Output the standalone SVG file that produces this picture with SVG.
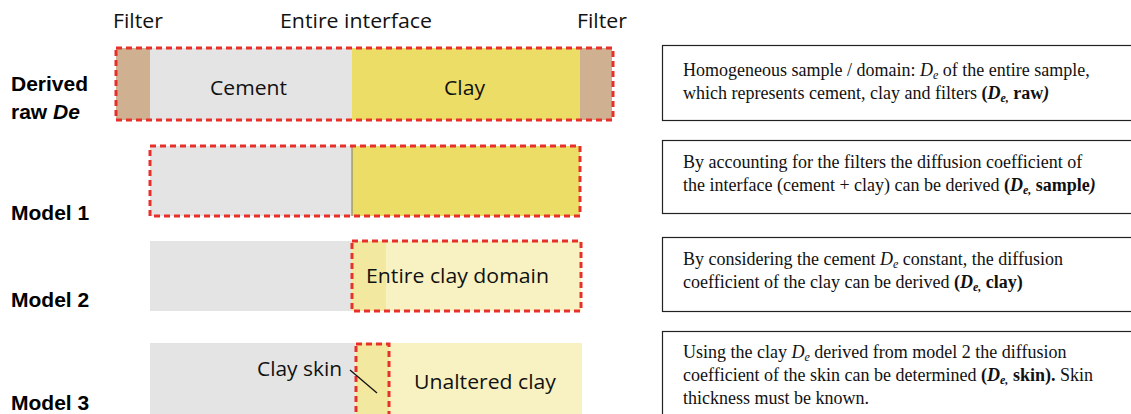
<svg xmlns="http://www.w3.org/2000/svg" width="1131" height="414" viewBox="0 0 1131 414">
<style>
.lbl{font-family:"Liberation Sans",Arial,sans-serif;font-weight:bold;font-size:21px;fill:#000}
.it{font-family:"Open Sans","Liberation Sans",sans-serif;font-size:19.5px;fill:#111}
.dash{fill:none;stroke:#e8302a;stroke-width:3;stroke-dasharray:6 4}
.box{fill:#fff;stroke:#222;stroke-width:1.2}
.desc{font-family:"Liberation Serif","Times New Roman",serif;font-size:18px;fill:#111}
.sub{font-style:italic;font-size:12px}
.grey{fill:#e4e4e4}.yel{fill:#ecdd66}.lyel{fill:#f8f1c2}.skin{fill:#f3e8a0}.filt{fill:#cfb091}
</style>
<rect width="1131" height="414" fill="#fff"/>
<g id="top-labels">
<text class="it" x="113" y="28" textLength="50" lengthAdjust="spacingAndGlyphs">Filter</text>
<text class="it" x="280" y="28" textLength="152" lengthAdjust="spacingAndGlyphs">Entire interface</text>
<text class="it" x="577" y="28" textLength="50" lengthAdjust="spacingAndGlyphs">Filter</text>
</g>
<g id="row-raw">
<rect class="filt" x="116" y="48" width="34" height="72"/>
<rect class="grey" x="150" y="48" width="202" height="72"/>
<rect class="yel" x="352" y="48" width="228" height="72"/>
<rect class="filt" x="580" y="48" width="32" height="72"/>
<rect class="dash" x="116" y="48" width="497" height="72"/>
<text class="it" x="210" y="95" textLength="77" lengthAdjust="spacingAndGlyphs">Cement</text>
<text class="it" x="444" y="95" textLength="41" lengthAdjust="spacingAndGlyphs">Clay</text>
<text class="lbl" x="11" y="91">Derived</text>
<text class="lbl" x="11" y="119">raw <tspan font-style="italic">De</tspan></text>
</g>
<g id="row-model1">
<rect class="grey" x="150" y="146" width="202" height="70"/>
<rect class="yel" x="352" y="146" width="228" height="70"/>
<line x1="352" y1="146" x2="352" y2="216" stroke="#777" stroke-width="1"/>
<rect class="dash" x="150" y="146" width="430" height="70"/>
<text class="lbl" x="11" y="220">Model 1</text>
</g>
<g id="row-model2">
<rect class="grey" x="150" y="241" width="202" height="70"/>
<rect class="lyel" x="352" y="241" width="229" height="70"/>
<rect class="skin" x="352" y="241" width="34" height="70"/>
<rect class="dash" x="352" y="241" width="229" height="70"/>
<text class="it" x="366" y="283" textLength="183" lengthAdjust="spacingAndGlyphs">Entire clay domain</text>
<text class="lbl" x="11" y="307">Model 2</text>
</g>
<g id="row-model3">
<rect class="grey" x="150" y="343" width="205" height="73"/>
<rect class="lyel" x="355" y="343" width="227" height="73"/>
<rect class="skin" x="356" y="343" width="33" height="73"/>
<rect class="dash" x="356" y="344" width="33" height="76"/>
<line x1="350" y1="370" x2="377" y2="393" stroke="#111" stroke-width="1.3"/>
<text class="it" x="257" y="376" textLength="85" lengthAdjust="spacingAndGlyphs">Clay skin</text>
<text class="it" x="414" y="389" textLength="142" lengthAdjust="spacingAndGlyphs">Unaltered clay</text>
<text class="lbl" x="11" y="410">Model 3</text>
</g>
<g id="desc1">
<rect class="box" x="662.5" y="45.5" width="480" height="75"/>
<text class="desc" x="683" y="76">Homogeneous sample / domain: <tspan font-style="italic">D</tspan><tspan class="sub" dy="3">e</tspan><tspan dy="-3"> of the entire sample,</tspan></text>
<text class="desc" x="683" y="99">which represents cement, clay and filters <tspan font-weight="bold">(<tspan font-style="italic">D</tspan><tspan class="sub" dy="3">e,</tspan><tspan dy="-3"> raw</tspan><tspan font-style="italic">)</tspan></tspan></text>
</g>
<g id="desc2">
<rect class="box" x="662.5" y="140.5" width="480" height="73"/>
<text class="desc" x="683" y="168">By accounting for the filters the diffusion coefficient of</text>
<text class="desc" x="683" y="191">the interface (cement + clay) can be derived <tspan font-weight="bold">(<tspan font-style="italic">D</tspan><tspan class="sub" dy="3">e,</tspan><tspan dy="-3"> sample</tspan><tspan font-style="italic">)</tspan></tspan></text>
</g>
<g id="desc3">
<rect class="box" x="662.5" y="237.5" width="480" height="74"/>
<text class="desc" x="683" y="265">By considering the cement <tspan font-style="italic">D</tspan><tspan class="sub" dy="3">e</tspan><tspan dy="-3"> constant, the diffusion</tspan></text>
<text class="desc" x="683" y="288">coefficient of the clay can be derived <tspan font-weight="bold">(<tspan font-style="italic">D</tspan><tspan class="sub" dy="3">e,</tspan><tspan dy="-3"> clay)</tspan></tspan></text>
</g>
<g id="desc4">
<rect class="box" x="662.5" y="331.5" width="480" height="100"/>
<text class="desc" x="683" y="358">Using the clay <tspan font-style="italic">D</tspan><tspan class="sub" dy="3">e</tspan><tspan dy="-3"> derived from model 2 the diffusion</tspan></text>
<text class="desc" x="683" y="381">coefficient of the skin can be determined <tspan font-weight="bold">(<tspan font-style="italic">D</tspan><tspan class="sub" dy="3">e,</tspan><tspan dy="-3"> skin).</tspan></tspan> Skin</text>
<text class="desc" x="683" y="404">thickness must be known.</text>
</g>
</svg>
